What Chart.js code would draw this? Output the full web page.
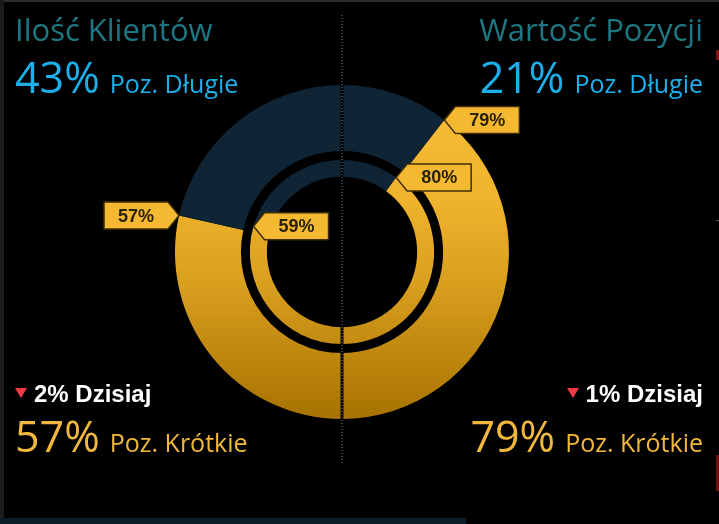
<!DOCTYPE html>
<html lang="pl">
<head>
<meta charset="utf-8">
<title>Ilość Klientów / Wartość Pozycji</title>
<script src="https://cdn.jsdelivr.net/npm/chart.js@4"></script>
<style>
  html, body { margin: 0; padding: 0; background: #000; }
  body { width: 719px; height: 524px; position: relative; overflow: hidden; font-family: 'Open Sans', sans-serif; }
  #chart { position: absolute; left: 0; top: 0; }
  .title { position: absolute; top: 14px; font-size: 31px; font-weight: 500; line-height: 1; color: #1e7883; white-space: nowrap; }
  .row { position: absolute; display: flex; align-items: baseline; line-height: 1; white-space: nowrap; }
  .big { font-size: 43px; }
  .sub { font-size: 25px; margin-left: 10px; }
  .long { color: #1bb0ec; }
  .short { color: #f2b83e; }
  .today { font-family: 'Liberation Sans', Arial, sans-serif; font-weight: bold; font-size: 24px; color: #fff; }
  .tri { display: inline-block; width: 0; height: 0; border-left: 6px solid transparent; border-right: 6px solid transparent;
         border-top: 10px solid #ee3a45; margin-right: 7px; position: relative; top: -4px; }
  .left { left: 15px; }
  .right { right: 16px; justify-content: flex-end; }
  /* ramka */
  .frame-top { position: absolute; left: 0; top: 0; width: 719px; height: 2px; background: #2c2c2c; }
  .frame-left { position: absolute; left: 0; top: 0; width: 4px; height: 518px; background: #1b1b1b; }
  .frame-bottom { position: absolute; left: 0; top: 518px; width: 466px; height: 6px; background: #0e1e29; }
  .mark { position: absolute; left: 716px; width: 3px; }
</style>
</head>
<body>
<canvas id="chart" width="719" height="524"></canvas>

<div class="frame-top"></div>
<div class="frame-left"></div>
<div class="frame-bottom"></div>
<div class="mark" style="top:50px;height:10px;background:#8a1010"></div>
<div class="mark" style="top:220px;height:1px;background:#555"></div>
<div class="mark" style="top:455px;height:36px;background:#7a0c0c"></div>

<div class="title left">Ilość Klientów</div>
<div class="title right">Wartość Pozycji</div>

<div class="row left" style="top:55px">
  <span class="big long">43%</span><span class="sub long">Poz. Długie</span>
</div>
<div class="row right" style="top:55px">
  <span class="big long">21%</span><span class="sub long">Poz. Długie</span>
</div>

<div class="row left today" style="top:382px">
  <span class="tri"></span><span>2% Dzisiaj</span>
</div>
<div class="row right today" style="top:382px">
  <span class="tri"></span><span>1% Dzisiaj</span>
</div>

<div class="row left" style="top:414px">
  <span class="big short">57%</span><span class="sub short">Poz. Krótkie</span>
</div>
<div class="row right" style="top:414px">
  <span class="big short">79%</span><span class="sub short">Poz. Krótkie</span>
</div>

<script>
// DANE: prawa połowa = Wartość Pozycji, lewa połowa = Ilość Klientów
// kolejność wycinków zgodnie z ruchem wskazówek od góry
const sliceLabels = ['Wartość Pozycji – długie', 'Wartość Pozycji – krótkie', 'Ilość Klientów – krótkie', 'Ilość Klientów – długie'];
const outerValues = [21, 79, 57, 43];
const innerValues = [20, 80, 59, 41];
const spacerValues = [100];

const navy = '#0f2434';

function goldFill(context) {
  const area = context.chart.chartArea;
  if (!area) return '#e0a526';
  const g = context.chart.ctx.createLinearGradient(0, area.top, 0, area.bottom);
  g.addColorStop(0, '#f8bf38');
  g.addColorStop(0.35, '#efb22c');
  g.addColorStop(0.6, '#d89e1e');
  g.addColorStop(1, '#a77200');
  return g;
}

function sliceFill(context) {
  return (context.dataIndex === 1 || context.dataIndex === 2) ? goldFill(context) : navy;
}

// etykiety-strzałki: które pierścienie / wycinki i na którą stronę
const tagSpecs = [
  { ds: 0, idx: 2, edge: 'end', dir: -1 },
  { ds: 2, idx: 2, edge: 'end', dir: 1 },
  { ds: 0, idx: 1, edge: 'start', dir: 1 },
  { ds: 2, idx: 1, edge: 'start', dir: 1 },
];

function drawTag(ctx, tx, ty, dir, text) {
  const w = 64, h = 27, arrow = 11;
  const x1 = tx + dir * arrow, x2 = tx + dir * (arrow + w);
  ctx.save();
  ctx.beginPath();
  ctx.moveTo(tx, ty);
  ctx.lineTo(x1, ty - h / 2);
  ctx.lineTo(x2, ty - h / 2);
  ctx.lineTo(x2, ty + h / 2);
  ctx.lineTo(x1, ty + h / 2);
  ctx.closePath();
  ctx.fillStyle = '#f5b831';
  ctx.fill();
  ctx.lineWidth = 1.5;
  ctx.strokeStyle = '#3f2f08';
  ctx.stroke();
  ctx.fillStyle = '#2b2206';
  ctx.font = 'bold 18px "Liberation Sans", Arial, sans-serif';
  ctx.textAlign = 'center';
  ctx.textBaseline = 'middle';
  ctx.fillText(text, (x1 + x2) / 2, ty + 1);
  ctx.restore();
}

const overlayPlugin = {
  id: 'overlay',
  afterDatasetsDraw(chart) {
    const ctx = chart.ctx;
    const cx = chart.getDatasetMeta(0).data[0].x;

    // kropkowana linia podziału
    ctx.save();
    ctx.fillStyle = '#000';
    ctx.fillRect(cx - 1.5, 15, 3, 449);
    ctx.fillStyle = '#6a7b8b';
    for (let y = 15; y < 464; y += 3) {
      ctx.fillRect(Math.round(cx) - 0.5, y, 1, 1);
    }
    ctx.restore();

    tagSpecs.forEach((t) => {
      const arc = chart.getDatasetMeta(t.ds).data[t.idx];
      const value = chart.data.datasets[t.ds].data[t.idx];
      const a = t.edge === 'end' ? arc.endAngle : arc.startAngle;
      const tx = arc.x + arc.outerRadius * Math.cos(a);
      const ty = arc.y + arc.outerRadius * Math.sin(a);
      drawTag(ctx, tx, ty, t.dir, value + '%');
    });
  },
};

new Chart(document.getElementById('chart'), {
  type: 'doughnut',
  data: {
    labels: sliceLabels,
    datasets: [
      { data: outerValues, backgroundColor: sliceFill, weight: 66 },
      { data: spacerValues, backgroundColor: 'rgba(0,0,0,0)', weight: 9 },
      { data: innerValues, backgroundColor: sliceFill, weight: 17 },
    ],
  },
  options: {
    responsive: false,
    animation: false,
    cutout: '45%',
    hoverOffset: 0,
    layout: { padding: { left: 175, right: 210, top: 85, bottom: 105 } },
    elements: { arc: { borderWidth: 0 } },
    plugins: {
      legend: { display: false },
      tooltip: { enabled: false },
    },
  },
  plugins: [overlayPlugin],
});
</script>
</body>
</html>
